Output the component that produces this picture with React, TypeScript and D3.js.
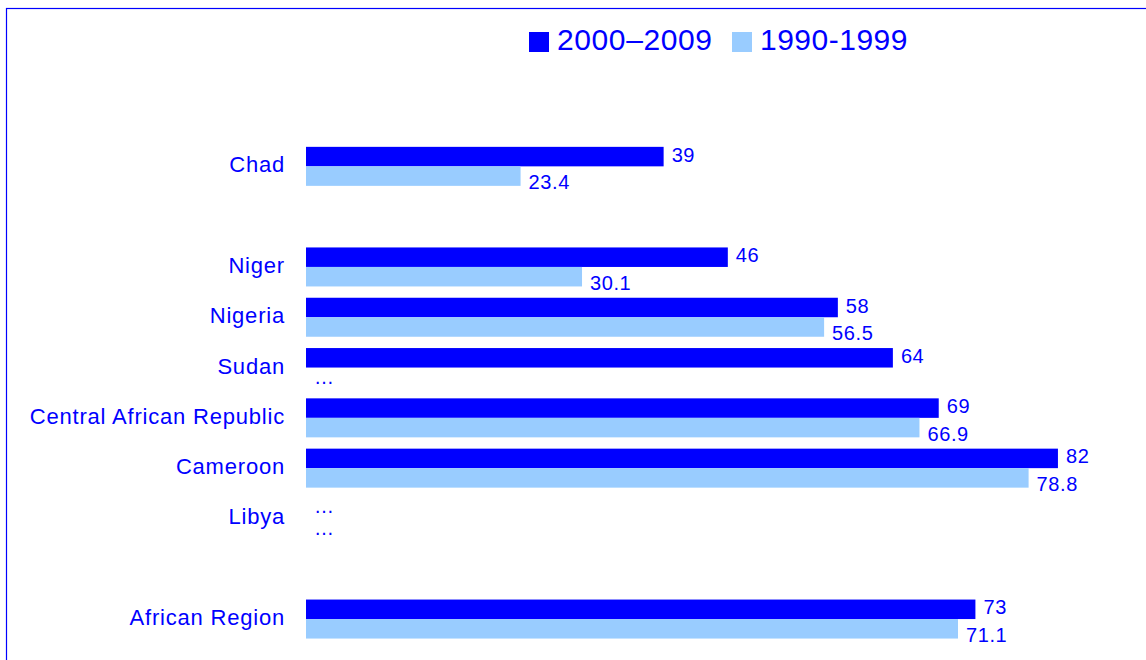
import React from "react";
import * as d3 from "d3";

const categories = ["Chad", "", "Niger", "Nigeria", "Sudan", "Central African Republic", "Cameroon", "Libya", "", "African Region"];
const series2000s = [39, null, 46, 58, 64, 69, 82, null, null, 73];
const series1990s = [23.4, null, 30.1, 56.5, null, 66.9, 78.8, null, null, 71.1];
const seriesNames = ["2000–2009", "1990-1999"];
const seriesColors = ["#0000FF", "#99CCFF"];

const W = 1146;
const H = 660;
const TEXT = "#0000FF";
const FONT = "'Liberation Sans', Arial, Helvetica, sans-serif";

export default function App() {
  const x = d3.scaleLinear().domain([0, 100]).range([306, 306 + 917]);
  const y = d3.scaleBand<number>().domain(d3.range(categories.length)).range([141.2, 644.2]).paddingInner(0).paddingOuter(0);
  const barH = 19.5;
  const series = [series2000s, series1990s];
  const labelOffset = [5, 13];
  const dotsOffset = [4, 7];

  return (
    <svg width={W} height={H} style={{ position: "absolute", left: 0, top: 0 }} fontFamily={FONT}>
      <rect x={6.5} y={8.5} width={W + 10} height={H + 10} fill="white" stroke="#0000FF" strokeWidth={1.2} />
      {/* legend */}
      <g>
        <rect x={529} y={32} width={20} height={20} fill={seriesColors[0]} />
        <text x={557} y={50} fontSize={30} letterSpacing={0.6} fill={TEXT}>{seriesNames[0]}</text>
        <rect x={732} y={32} width={20} height={20} fill={seriesColors[1]} />
        <text x={760} y={50} fontSize={30} letterSpacing={0.5} fill={TEXT}>{seriesNames[1]}</text>
      </g>
      {categories.map((c, i) => {
        const cy = (y(i) as number) + y.bandwidth() / 2;
        if (!c) return null;
        return (
          <g key={i}>
            <text x={285} y={cy + 6} textAnchor="end" fontSize={22} letterSpacing={0.8} fill={TEXT}>{c}</text>
            {series.map((s, si) => {
              const v = s[i];
              const top = cy - barH + si * barH;
              const mid = top + barH / 2;
              if (v == null) {
                return (
                  <text key={si} x={x(0) + 8} y={mid + dotsOffset[si]} fontSize={20} fill={TEXT}>…</text>
                );
              }
              return (
                <g key={si}>
                  <rect x={x(0)} y={top} width={x(v) - x(0)} height={barH} fill={seriesColors[si]} />
                  <text x={x(v) + 8} y={mid + labelOffset[si]} fontSize={20} letterSpacing={0.6} fill={TEXT}>{String(v)}</text>
                </g>
              );
            })}
          </g>
        );
      })}
    </svg>
  );
}
